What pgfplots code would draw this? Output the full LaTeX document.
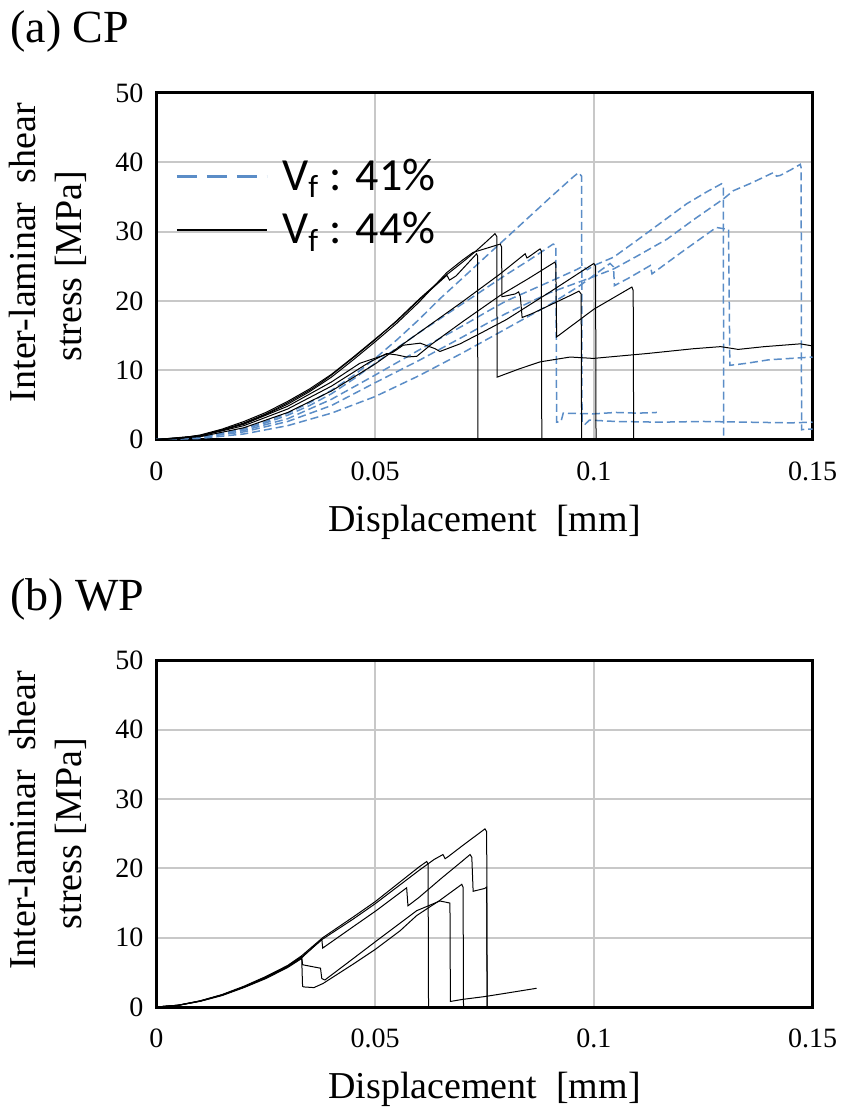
\documentclass[border=0pt]{standalone}
\usepackage{fontspec}
\setmainfont{Liberation Serif}
\newfontfamily\calibri{Carlito}
\usepackage{pgfplots}
\pgfplotsset{compat=1.18}
\definecolor{vfblue}{RGB}{91,141,199}
\definecolor{gridgray}{RGB}{200,200,200}
\pgfplotsset{
  panel/.style={
    scale only axis, width=328pt, height=173.25pt,
    xmin=0, xmax=0.15, ymin=0, ymax=50,
    xtick={0,0.05,0.1,0.15}, xticklabels={0,0.05,0.1,0.15},
    ytick={0,10,20,30,40,50}, yticklabels={0,10,20,30,40,50},
    scaled x ticks=false, scaled y ticks=false,
    grid=major, major grid style={gridgray, line width=1pt},
    axis line style={line width=1.5pt},
    major tick length=0pt,
    tick label style={font=\fontsize{14}{16}\selectfont},
    xticklabel style={yshift=-7.5pt},
    yticklabel style={xshift=-3pt},
    label style={font=\fontsize{19}{23}\selectfont},
    xlabel={Displacement\ \ [mm]},
    ylabel={\hspace*{13.5pt}Inter-laminar\ \ shear\\stress [MPa]},
    ylabel style={at={(axis description cs:-0.166,0.5)}, anchor=center, align=center},
    xlabel style={at={(axis description cs:0.5,-0.238)}, anchor=center},
    every axis title shift=0pt,
    title style={at={(axis description cs:-0.2233,1.1443)}, anchor=base west, inner sep=0pt, font=\fontsize{23}{27}\selectfont},
    legend image code/.code={\draw[#1] (0pt,0pt) -- (45pt,0pt);},
  },
  blk/.style={black, line width=0.5pt, forget plot},
  blu/.style={vfblue, line width=0.75pt, dash pattern=on 4pt off 2pt, forget plot},
}
\begin{document}
\begin{tikzpicture}
\useasboundingbox (-78.25pt,-335.75pt) rectangle (342.25pt,219.75pt);
\begin{axis}[panel, title={(a) CP},
  legend style={draw=none, fill=none, at={(axis description cs:0.0282,0.822)}, anchor=north west, inner sep=0pt,
    font=\calibri\fontsize{23}{26}\selectfont, row sep=5.5pt, /tikz/every odd column/.append style={column sep=5pt}},
  legend cell align=left]
\addlegendimage{vfblue, line width=1.5pt, dash pattern=on 10pt off 5pt}
\addlegendentry{V\textsubscript{f} : 41\%}
\addlegendimage{black, line width=1pt}
\addlegendentry{V\textsubscript{f} : 44\%}
% ---- Vf 41% (blue dashed)
\addplot[blu] coordinates {(0,0) (0.005,0.1) (0.01,0.4) (0.015,0.9) (0.02,1.6) (0.025,2.6) (0.03,3.8) (0.035,5.3) (0.04,7.1) (0.045,9.2) (0.05,11.7) (0.055,14.4) (0.06,17.3) (0.0648,20.3) (0.07,23.3) (0.076,26.8) (0.08,29.1) (0.085,32.0) (0.09,34.9) (0.0953,37.9) (0.0965,38.5) (0.0972,38.0) (0.0973,2.4) (0.098,2.2) (0.099,2.8) (0.105,2.6) (0.115,2.5) (0.125,2.6) (0.135,2.5) (0.145,2.4) (0.15,2.5)};
\addplot[blu] coordinates {(0,0) (0.005,0.1) (0.01,0.35) (0.015,0.8) (0.02,1.5) (0.025,2.4) (0.03,3.5) (0.035,4.9) (0.04,6.6) (0.045,8.7) (0.05,11.0) (0.055,13.2) (0.06,15.4) (0.065,17.5) (0.07,19.6) (0.075,21.7) (0.08,23.8) (0.085,25.8) (0.0907,28.2) (0.0913,28.0) (0.0915,2.5) (0.0925,2.6) (0.093,3.8) (0.1,3.7) (0.105,3.9) (0.11,3.8) (0.1144,3.9)};
\addplot[blu] coordinates {(0,0) (0.01,0.3) (0.02,1.1) (0.03,2.6) (0.04,4.9) (0.05,8.2) (0.06,11.4) (0.07,14.8) (0.076,16.9) (0.08,18.2) (0.09,21.2) (0.1,23.5) (0.1045,24.6) (0.11,26.5) (0.1167,28.9) (0.123,31.8) (0.1296,34.7) (0.1319,35.9) (0.136,37.0) (0.141,38.5) (0.1418,38.0) (0.1426,38.1) (0.145,38.9) (0.1472,39.7) (0.1474,39.2) (0.1475,1.4) (0.1485,1.5) (0.15,1.5)};
\addplot[blu] coordinates {(0,0) (0.01,0.35) (0.02,1.3) (0.03,3.0) (0.04,5.8) (0.05,9.3) (0.06,12.9) (0.07,16.4) (0.076,18.6) (0.08,20.0) (0.09,22.8) (0.096,24.5) (0.0975,25.0) (0.0985,24.5) (0.1,25.1) (0.1045,26.3) (0.11,28.8) (0.1212,34.0) (0.126,35.8) (0.1292,36.9) (0.1296,36.6) (0.1297,0)};
\addplot[blu] coordinates {(0,0) (0.01,0.15) (0.02,0.8) (0.03,2.0) (0.04,3.8) (0.05,6.2) (0.06,9.2) (0.07,12.5) (0.076,14.6) (0.08,16.0) (0.09,19.5) (0.0968,22.2) (0.1037,25.4) (0.1045,24.9) (0.1047,22.2) (0.108,23.3) (0.1129,25.1) (0.1133,23.9) (0.12,27.0) (0.128,30.6) (0.1308,30.3) (0.1311,10.7) (0.135,11.0) (0.14,11.5) (0.145,11.7) (0.15,11.9)};
% ---- Vf 44% (black solid)
\addplot[blk] coordinates {(0,0) (0.005,0.15) (0.01,0.6) (0.015,1.4) (0.02,2.4) (0.025,3.7) (0.03,5.3) (0.035,7.1) (0.0374,8.1) (0.04,9.3) (0.045,11.8) (0.05,14.4) (0.055,17.2) (0.0603,20.4) (0.0664,23.8) (0.07,25.6) (0.0725,26.9) (0.075,28.3) (0.0774,29.7) (0.0778,29.3) (0.0779,9.0) (0.083,10.2) (0.0877,11.2) (0.0946,11.9) (0.0999,11.7) (0.1121,12.4) (0.1228,13.1) (0.129,13.4) (0.133,13.0) (0.139,13.4) (0.1472,13.8) (0.15,13.5)};
\addplot[blk] coordinates {(0,0) (0.005,0.17) (0.01,0.65) (0.015,1.5) (0.02,2.6) (0.025,3.9) (0.03,5.5) (0.035,7.3) (0.04,9.4) (0.045,11.9) (0.05,14.5) (0.055,17.1) (0.06,20.1) (0.065,22.9) (0.0664,23.7) (0.067,23.0) (0.0685,23.6) (0.0732,26.8) (0.0734,26.5) (0.0735,0)};
\addplot[blk] coordinates {(0,0) (0.005,0.12) (0.01,0.55) (0.015,1.3) (0.02,2.3) (0.025,3.6) (0.03,5.1) (0.035,6.9) (0.04,9.0) (0.045,11.5) (0.05,14.1) (0.055,16.8) (0.06,19.8) (0.0664,24.1) (0.07,25.9) (0.0724,27.0) (0.0786,28.2) (0.0789,27.8) (0.079,20.6) (0.082,21.0) (0.0828,21.3) (0.0832,20.6) (0.0836,17.6) (0.086,18.2) (0.09,19.4) (0.095,20.9) (0.0966,21.4) (0.0971,21.0) (0.0972,0)};
\addplot[blk] coordinates {(0,0) (0.01,0.4) (0.02,1.7) (0.03,3.9) (0.04,7.0) (0.05,10.9) (0.06,15.4) (0.07,19.9) (0.0786,23.9) (0.0843,26.8) (0.0847,26.2) (0.085,26.3) (0.0877,27.5) (0.088,27.2) (0.0881,0)};
\addplot[blk] coordinates {(0,0) (0.01,0.5) (0.02,2.0) (0.03,4.4) (0.04,7.7) (0.0488,11.2) (0.0526,12.4) (0.055,12.2) (0.0572,11.9) (0.0595,12.0) (0.063,13.8) (0.07,17.0) (0.0786,20.8) (0.085,23.2) (0.0911,25.6) (0.0913,25.2) (0.0915,14.8) (0.1,18.8) (0.1087,22.0) (0.109,21.5) (0.1091,0)};
\addplot[blk] coordinates {(0,0) (0.01,0.55) (0.02,2.2) (0.03,4.8) (0.04,8.3) (0.0465,11.0) (0.0541,12.6) (0.0564,13.6) (0.0603,13.9) (0.0637,13.1) (0.0648,12.7) (0.0694,13.8) (0.074,15.3) (0.08,17.3) (0.09,21.3) (0.0995,25.2) (0.1,25.4) (0.1004,25.0) (0.1005,0)};
\end{axis}
\begin{axis}[panel, title={(b) WP}, at={(0pt,-283.75pt)}, anchor=south west]
\addplot[blk] coordinates {(0,0) (0.005,0.25) (0.01,0.85) (0.015,1.75) (0.02,2.9) (0.025,4.3) (0.03,5.9) (0.0332,7.2) (0.038,9.8) (0.045,12.7) (0.05,14.9) (0.055,17.3) (0.06,19.7) (0.0635,21.3) (0.0655,22.0) (0.066,21.4) (0.0667,21.7) (0.07,23.3) (0.0751,25.7) (0.0755,25.3) (0.0756,0)};
\addplot[blk] coordinates {(0,0) (0.005,0.27) (0.01,0.9) (0.015,1.8) (0.02,3.0) (0.025,4.4) (0.03,6.0) (0.0332,7.4) (0.038,10.0) (0.045,13.0) (0.05,15.2) (0.055,17.7) (0.06,20.2) (0.0618,21.0) (0.0621,20.6) (0.0622,0)};
\addplot[blk] coordinates {(0,0) (0.005,0.25) (0.01,0.85) (0.015,1.7) (0.02,2.85) (0.025,4.2) (0.03,5.8) (0.0332,7.1) (0.0378,9.8) (0.038,8.5) (0.045,11.6) (0.05,13.8) (0.0572,17.2) (0.0575,14.6) (0.06,15.8) (0.065,18.5) (0.07,21.1) (0.0717,22.0) (0.0721,21.6) (0.0724,16.7) (0.075,17.1) (0.0755,17.3) (0.0756,0)};
\addplot[blk] coordinates {(0,0) (0.005,0.24) (0.01,0.82) (0.015,1.65) (0.02,2.8) (0.025,4.1) (0.03,5.7) (0.0332,7.0) (0.0334,3.0) (0.0336,2.9) (0.036,2.8) (0.0381,3.4) (0.045,6.2) (0.05,8.3) (0.0557,11.0) (0.0595,13.2) (0.0648,15.4) (0.0698,17.7) (0.0701,17.3) (0.0702,0)};
\addplot[blk] coordinates {(0,0) (0.005,0.26) (0.01,0.88) (0.015,1.75) (0.02,2.9) (0.025,4.3) (0.03,5.9) (0.0332,7.3) (0.0334,6.1) (0.035,5.9) (0.0375,5.6) (0.0378,4.1) (0.0385,3.9) (0.045,7.0) (0.05,9.4) (0.0595,13.9) (0.0648,15.3) (0.0671,15.0) (0.0672,0.8) (0.07,1.1) (0.075,1.5) (0.08,2.0) (0.0869,2.7)};
\end{axis}
\end{tikzpicture}
\end{document}
